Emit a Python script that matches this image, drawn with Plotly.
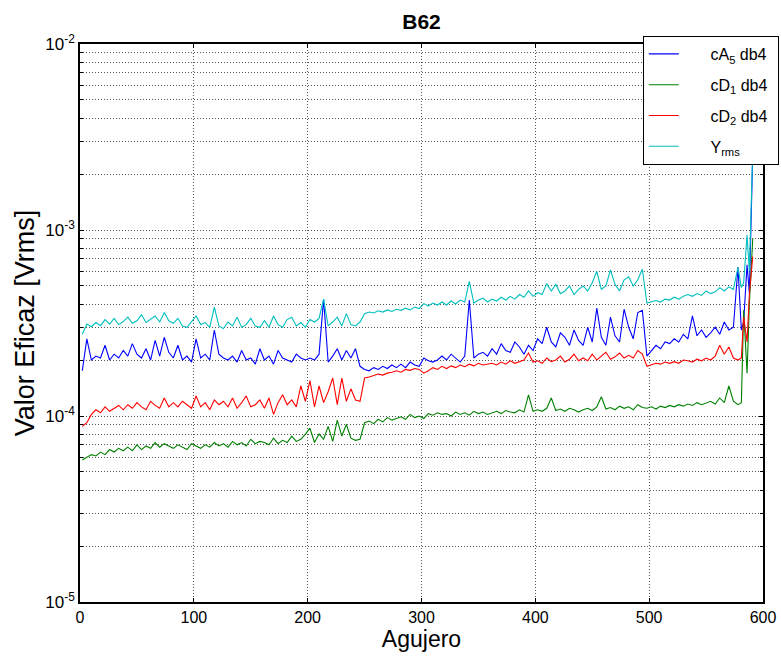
import plotly.graph_objects as go

# Hole numbers (x) : sampled every 4 holes, plus the final holes
agujero = list(range(2, 579, 4)) + [581, 583, 586, 588, 591]

# Values in micro-volts rms (x1e-6 V)
cA5 = [
    175, 260, 200, 210, 205, 240, 200, 215, 205, 225,
    210, 245, 215, 205, 230, 200, 255, 210, 265, 220,
    205, 240, 200, 210, 195, 260, 205, 215, 200, 290,
    215, 205, 200, 210, 195, 225, 200, 205, 190, 230,
    200, 210, 190, 225, 205, 200, 195, 215, 205, 200,
    205, 200, 215, 425, 195, 210, 230, 200, 225, 205,
    230, 185, 178, 175, 182, 178, 185, 180, 188, 182,
    190, 182, 195, 188, 185, 205, 198, 195, 200, 210,
    200, 215, 205, 195, 210, 420, 205, 215, 220, 210,
    230, 215, 245, 225, 220, 250, 235, 215, 240, 225,
    260, 245, 300, 250, 235, 280, 265, 240, 290, 255,
    240, 300, 250, 380, 265, 240, 340, 270, 250, 375,
    300, 260, 360, 370, 210, 225, 240, 230, 250, 245,
    260, 250, 275, 260, 345, 270, 290, 265, 280, 300,
    275, 320, 290, 300, 630,
    290, 320, 650, 460, 2600,
]
cD1 = [
    58, 60, 62, 61, 64, 62, 66, 64, 67, 65,
    68, 65, 70, 66, 69, 67, 72, 68, 71, 69,
    67, 70, 68, 66, 71, 69, 67, 70, 68, 72,
    69, 71, 68, 73, 70, 72, 69, 75, 71, 73,
    72, 70, 76, 71, 74, 72, 78, 73, 75, 80,
    86, 72, 80, 75, 88, 73, 95, 78, 90, 76,
    74, 75, 92, 94, 91, 96, 93, 98, 95, 97,
    99, 96, 102, 98, 100, 97, 103, 101, 104, 102,
    103, 100, 105, 102, 104, 101, 106, 103, 105, 102,
    104, 106, 103, 107, 105, 104, 108, 105, 130, 106,
    108, 106, 110, 125, 107, 109, 106, 110, 108, 105,
    108, 110, 107, 112, 127, 109, 111, 108, 113, 110,
    112, 108, 115, 111, 110, 112, 109, 113, 111, 114,
    112, 115, 113, 116, 114, 118, 115, 117, 120, 116,
    125, 118, 145, 120, 115,
    118, 370, 170, 400, 900,
]
cD2 = [
    88, 92, 102, 108, 104, 112, 106, 110, 114, 108,
    115, 110, 118, 112, 108, 120, 114, 110, 125, 112,
    118, 112, 120, 115, 110, 128, 112, 118, 108, 122,
    115, 120, 112, 125, 110, 118, 128, 112, 115, 122,
    110, 125, 102, 118, 130, 115, 122, 112, 145, 120,
    155, 112, 145, 118, 135, 160, 115, 160, 120, 140,
    122, 120, 160, 162, 165, 168, 166, 170, 172, 175,
    172, 178, 176, 180, 178, 170, 175, 182, 178, 185,
    180, 186, 182, 188, 184, 190, 186, 192, 188, 190,
    192, 188, 195, 190, 198, 192, 196, 200, 218, 195,
    198, 192, 205, 196, 200, 210, 195, 202, 215, 198,
    205, 198, 215, 200, 210, 220, 202, 208, 218, 205,
    212, 205, 225, 215, 185, 188, 192, 190, 195, 192,
    196, 192, 200, 198, 195, 202, 198, 205, 200, 210,
    240, 215, 235, 205, 200,
    205, 340, 250, 450, 720,
]
Yrms = [
    275, 312, 302, 318, 306, 330, 312, 335, 310, 322,
    340, 315, 325, 350, 318, 330, 345, 320, 360, 325,
    315, 335, 305, 300, 320, 345, 310, 318, 300, 385,
    305, 295, 320, 305, 340, 300, 310, 335, 305, 300,
    325, 300, 345, 310, 300, 330, 340, 305, 318, 300,
    330, 320, 335, 425, 305, 320, 340, 305, 355, 310,
    305, 320, 355, 362, 358, 368, 362, 372, 365, 375,
    370, 380, 372, 385, 378, 402, 390, 405, 395, 410,
    395, 415, 400, 420, 410, 530, 405, 420, 430, 410,
    425, 415, 435, 420, 440, 425, 450, 435, 470, 440,
    460, 450, 515, 470, 510, 455, 470, 500, 450, 480,
    500, 470, 520, 600, 480, 500, 610, 510, 470, 540,
    560, 500, 540, 615, 405, 412, 418, 410, 425, 420,
    435, 425, 440, 450, 440, 455, 445, 470, 455, 465,
    490, 470, 495, 480, 630,
    490, 520, 940, 600, 2700,
]

legend_names = ["cA<sub>5</sub> db4", "cD<sub>1</sub> db4",
                "cD<sub>2</sub> db4", "Y<sub>rms</sub>"]
colors = ["#0000FF", "#008000", "#FF0000", "#00BFBF"]
values = [cA5, cD1, cD2, Yrms]

# y tick labels (decades)
y_tickvals = [1e-5, 1e-4, 1e-3, 1e-2]
y_ticktext = ["10<sup>-5</sup>", "10<sup>-4</sup>", "10<sup>-3</sup>", "10<sup>-2</sup>"]
x_tickvals = [0, 100, 200, 300, 400, 500, 600]

PAD_L = "&nbsp;" * 6
PAD_R = "&nbsp;"

fig = go.Figure()
for i, (name, vals, col) in enumerate(zip(legend_names, values, colors)):
    fig.add_trace(go.Scatter(
        x=agujero, y=[v * 1e-6 for v in vals], mode="lines",
        name=PAD_L + name + PAD_R,
        line=dict(color=col, width=1.1), legendgroup="g%d" % i,
    ))

FONT = "Liberation Sans, Arial, sans-serif"
GRID = dict(showgrid=True, gridcolor="#555555", griddash="1px,2px", gridwidth=1)
fig.update_layout(
    width=781, height=658,
    margin=dict(l=80, r=18, t=44, b=56, autoexpand=False),
    paper_bgcolor="white", plot_bgcolor="white",
    font=dict(family=FONT, size=15, color="black"),
    title=dict(text="<b>B62</b>", x=0.5, xref="paper", y=1 - 22 / 658,
               yref="container", yanchor="middle", font=dict(size=21)),
    showlegend=True,
    legend=dict(x=0.824, y=1.0143, xanchor="left", yanchor="top",
                bgcolor="white", bordercolor="black", borderwidth=1,
                font=dict(size=16), traceorder="grouped", tracegroupgap=7),
)
fig.update_xaxes(
    range=[0, 600], tickvals=x_tickvals,
    showline=True, linecolor="black", linewidth=1.5, mirror="ticks",
    ticks="inside", ticklen=4, tickcolor="black",
    zeroline=False, tickfont=dict(size=16),
    title=dict(text="Agujero", font=dict(size=23), standoff=1),
    **GRID,
)
fig.update_yaxes(
    type="log", range=[-5, -2], tickvals=y_tickvals, ticktext=y_ticktext,
    showline=True, linecolor="black", linewidth=1.5, mirror="ticks",
    ticks="inside", ticklen=4, tickcolor="black",
    zeroline=False, tickfont=dict(size=17),
    minor=dict(tickmode="linear", dtick="D1", ticks="inside", ticklen=3,
               tickcolor="black", showgrid=True, gridcolor="#555555",
               griddash="1px,2px", gridwidth=1),
    title=dict(text="Valor Eficaz [Vrms]", font=dict(size=27), standoff=3),
    **GRID,
)

fig.write_html("out.html")
